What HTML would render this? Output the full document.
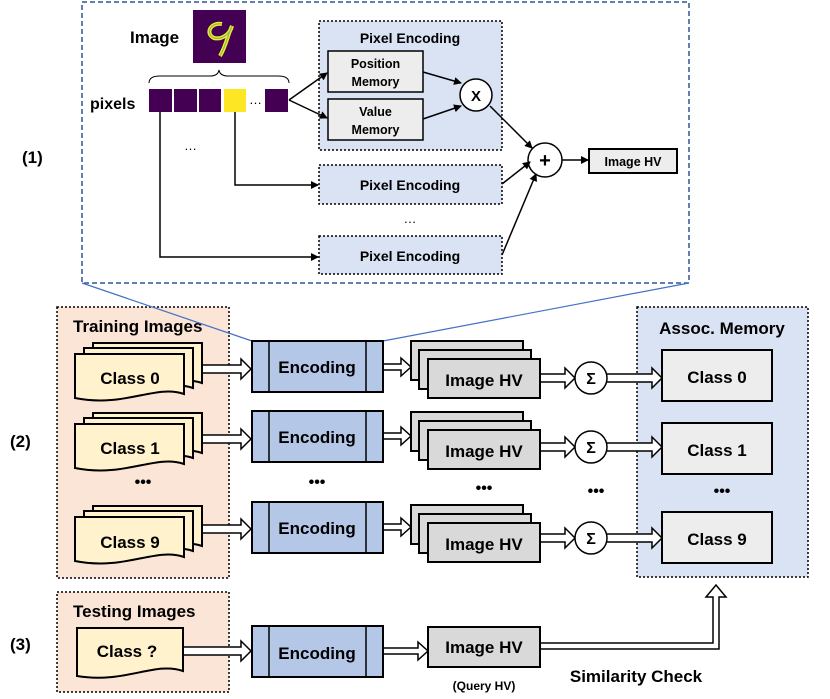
<!DOCTYPE html>
<html><head><meta charset="utf-8"><style>
body{margin:0;background:#fff}
svg{display:block;font-family:"Liberation Sans",sans-serif;font-weight:bold}
</style></head><body>
<svg width="830" height="699" viewBox="0 0 830 699" xmlns="http://www.w3.org/2000/svg">
<defs>
<marker id="ah" markerWidth="8" markerHeight="8" refX="7" refY="4" orient="auto" markerUnits="userSpaceOnUse"><path d="M0,0 L8,4 L0,8 Z" fill="#000"/></marker>
<path id="doc" d="M0,0 H109 V40 C80,30 50,54 0,44 Z" fill="#fff2cc" stroke="#000" stroke-width="2"/>
<g id="docs"><use href="#doc" x="18" y="-11"/><use href="#doc" x="9" y="-6"/><use href="#doc" x="0" y="0"/></g>
<g id="enc"><rect x="0" y="0" width="131" height="51" fill="#b4c7e7" stroke="#000" stroke-width="2"/><line x1="17" y1="0" x2="17" y2="51" stroke="#000" stroke-width="1.5"/><line x1="114" y1="0" x2="114" y2="51" stroke="#000" stroke-width="1.5"/></g>
<g id="hv"><rect x="0" y="0" width="112" height="39" fill="#d9d9d9" stroke="#000" stroke-width="2"/><rect x="8" y="9" width="112" height="39" fill="#d9d9d9" stroke="#000" stroke-width="2"/><rect x="17" y="18" width="112" height="39" fill="#d9d9d9" stroke="#000" stroke-width="2"/></g>
</defs>

<!-- section (1) -->
<rect x="82" y="2" width="607" height="281" fill="none" stroke="#2f5597" stroke-width="1.5" stroke-dasharray="5,3"/>
<text x="22" y="163" font-size="17">(1)</text>
<text x="130" y="43" font-size="17">Image</text>
<rect x="193" y="10" width="53" height="53" fill="#440154"/>
<path d="M222,24 C210,22 205,34 214,38 C222,40 230,34 232,26 C228,34 226,46 220,56" fill="none" stroke="#fde725" stroke-width="4"/>
<path d="M222,24 C210,22 205,34 214,38 C222,40 230,34 232,26 C228,34 226,46 220,56" fill="none" stroke="#35b779" stroke-width="1.2" opacity="0.7"/>
<path d="M149,83 Q149,76 160,76 L210,76 Q218,76 219,70 Q220,76 228,76 L278,76 Q289,76 289,83" fill="none" stroke="#000" stroke-width="1"/>
<text x="90" y="109" font-size="16">pixels</text>
<rect x="149" y="89" width="23" height="23" fill="#440154"/>
<rect x="174" y="89" width="23" height="23" fill="#440154"/>
<rect x="199" y="89" width="22" height="23" fill="#440154"/>
<rect x="224" y="89" width="22" height="23" fill="#fde725"/>
<text x="249" y="104" font-size="13" font-weight="normal">…</text>
<rect x="265" y="89" width="23" height="23" fill="#440154"/>
<text x="184" y="150" font-size="13" font-weight="normal">…</text>

<rect x="319" y="21" width="183" height="129" fill="#dae3f3" stroke="#000" stroke-width="1.5" stroke-dasharray="2,2"/>
<text x="410" y="43" font-size="14" text-anchor="middle">Pixel Encoding</text>
<rect x="328" y="51" width="95" height="41" fill="#ededed" stroke="#000" stroke-width="1.5"/>
<text x="375.5" y="68" font-size="12.5" text-anchor="middle">Position</text>
<text x="375.5" y="86" font-size="12.5" text-anchor="middle">Memory</text>
<rect x="328" y="99" width="95" height="41" fill="#ededed" stroke="#000" stroke-width="1.5"/>
<text x="375.5" y="116" font-size="12.5" text-anchor="middle">Value</text>
<text x="375.5" y="134" font-size="12.5" text-anchor="middle">Memory</text>
<circle cx="476" cy="95" r="16" fill="#fff" stroke="#000" stroke-width="1.5"/>
<text x="476" y="101" font-size="15" text-anchor="middle">X</text>
<line x1="289" y1="100" x2="327" y2="73" stroke="#000" stroke-width="1.5" marker-end="url(#ah)"/>
<line x1="289" y1="100" x2="327" y2="118" stroke="#000" stroke-width="1.5" marker-end="url(#ah)"/>
<line x1="423" y1="72" x2="461" y2="83" stroke="#000" stroke-width="1.5" marker-end="url(#ah)"/>
<line x1="423" y1="119" x2="461" y2="106" stroke="#000" stroke-width="1.5" marker-end="url(#ah)"/>

<rect x="319" y="165" width="183" height="39" fill="#dae3f3" stroke="#000" stroke-width="1.5" stroke-dasharray="2,2"/>
<text x="410" y="190" font-size="14" text-anchor="middle">Pixel Encoding</text>
<text x="410" y="223" font-size="13" text-anchor="middle" font-weight="normal">…</text>
<rect x="319" y="236" width="183" height="38" fill="#dae3f3" stroke="#000" stroke-width="1.5" stroke-dasharray="2,2"/>
<text x="410" y="261" font-size="14" text-anchor="middle">Pixel Encoding</text>
<path d="M235,112 V185 H318" fill="none" stroke="#000" stroke-width="1.5" marker-end="url(#ah)"/>
<path d="M160,112 V257 H318" fill="none" stroke="#000" stroke-width="1.5" marker-end="url(#ah)"/>

<circle cx="545" cy="160" r="17" fill="#fff" stroke="#000" stroke-width="1.5"/>
<text x="545" y="167" font-size="20" text-anchor="middle">+</text>
<line x1="490" y1="106" x2="532" y2="148" stroke="#000" stroke-width="1.5" marker-end="url(#ah)"/>
<line x1="502" y1="184" x2="530" y2="162" stroke="#000" stroke-width="1.5" marker-end="url(#ah)"/>
<line x1="502" y1="255" x2="536" y2="174" stroke="#000" stroke-width="1.5" marker-end="url(#ah)"/>
<line x1="562" y1="160" x2="588" y2="160" stroke="#000" stroke-width="1.5" marker-end="url(#ah)"/>
<rect x="589" y="149" width="88" height="24" fill="#ededed" stroke="#000" stroke-width="2"/>
<text x="633" y="166" font-size="12.5" text-anchor="middle">Image HV</text>

<!-- section (2) -->
<text x="10" y="447" font-size="17">(2)</text>
<rect x="57" y="307" width="172" height="271" fill="#fbe5d6" stroke="#000" stroke-width="1.5" stroke-dasharray="2,2"/>
<text x="73" y="332" font-size="17">Training Images</text>
<rect x="637" y="307" width="171" height="270" fill="#dae3f3" stroke="#000" stroke-width="1.5" stroke-dasharray="2,2"/>
<text x="722" y="334" font-size="17" text-anchor="middle">Assoc. Memory</text>
<line x1="82" y1="283" x2="252" y2="341" stroke="#4472c4" stroke-width="1.2"/>
<line x1="689" y1="283" x2="383" y2="341" stroke="#4472c4" stroke-width="1.2"/>

<g stroke="#000" stroke-width="1.5" fill="#fff">
<path d="M201,365 H241 V359 L251,369 L241,379 V373 H201"/>
<path d="M201,435 H241 V429 L251,439 L241,449 V443 H201"/>
<path d="M201,525 H241 V519 L251,529 L241,539 V533 H201"/>
<path d="M383,364 H401 V358 L411,367 L401,376 V370 H383"/>
<path d="M383,433 H401 V427 L411,436 L401,445 V439 H383"/>
<path d="M383,524 H401 V518 L411,527 L401,536 V530 H383"/>
<path d="M540,374 H565 V368 L575,378 L565,388 V382 H540"/>
<path d="M540,443 H565 V437 L575,447 L565,457 V451 H540"/>
<path d="M540,534 H565 V528 L575,538 L565,548 V542 H540"/>
<path d="M607,374 H652 V368 L662,378 L652,388 V382 H607"/>
<path d="M607,443 H652 V437 L662,447 L652,457 V451 H607"/>
<path d="M607,534 H652 V528 L662,538 L652,548 V542 H607"/>
</g>

<use href="#docs" x="75" y="354"/>
<use href="#docs" x="75" y="424"/>
<use href="#docs" x="75" y="517"/>
<text x="130" y="384" font-size="17" text-anchor="middle">Class 0</text>
<text x="130" y="454" font-size="17" text-anchor="middle">Class 1</text>
<text x="130" y="548" font-size="17" text-anchor="middle">Class 9</text>

<use href="#enc" x="252" y="341"/>
<use href="#enc" x="252" y="411"/>
<use href="#enc" x="252" y="502"/>
<text x="317" y="373" font-size="17" text-anchor="middle">Encoding</text>
<text x="317" y="443" font-size="17" text-anchor="middle">Encoding</text>
<text x="317" y="534" font-size="17" text-anchor="middle">Encoding</text>

<use href="#hv" x="411" y="341"/>
<use href="#hv" x="411" y="412"/>
<use href="#hv" x="411" y="505"/>
<text x="484" y="386" font-size="17" text-anchor="middle">Image HV</text>
<text x="484" y="457" font-size="17" text-anchor="middle">Image HV</text>
<text x="484" y="550" font-size="17" text-anchor="middle">Image HV</text>

<g fill="#fff" stroke="#000" stroke-width="1.5">
<circle cx="591" cy="378" r="16"/><circle cx="591" cy="447" r="16"/><circle cx="591" cy="538" r="16"/>
</g>
<text x="591" y="384" font-size="16" text-anchor="middle">Σ</text>
<text x="591" y="453" font-size="16" text-anchor="middle">Σ</text>
<text x="591" y="544" font-size="16" text-anchor="middle">Σ</text>

<g fill="#ededed" stroke="#000" stroke-width="2">
<rect x="662" y="350" width="110" height="51"/><rect x="662" y="423" width="110" height="51"/><rect x="662" y="512" width="110" height="51"/>
</g>
<text x="717" y="383" font-size="17" text-anchor="middle">Class 0</text>
<text x="717" y="456" font-size="17" text-anchor="middle">Class 1</text>
<text x="717" y="545" font-size="17" text-anchor="middle">Class 9</text>

<g font-size="16" text-anchor="middle">
<text x="143" y="487">•••</text><text x="317" y="487">•••</text><text x="484" y="493">•••</text><text x="596" y="496">•••</text><text x="722" y="496">•••</text>
</g>

<!-- section (3) -->
<text x="10" y="650" font-size="17">(3)</text>
<rect x="57" y="592" width="172" height="100" fill="#fbe5d6" stroke="#000" stroke-width="1.5" stroke-dasharray="2,2"/>
<text x="73" y="617" font-size="17">Testing Images</text>
<g stroke="#000" stroke-width="1.5" fill="#fff">
<path d="M183,647 H241 V641 L251,651 L241,661 V655 H183"/>
<path d="M383,648 H418 V642 L428,651 L418,660 V654 H383"/>
<path d="M540,643 H713 V597 H706 L716,585 L726,597 H719 V649 H540"/>
</g>
<path d="M77,628 H183 V671 C155,661 125,684 77,676 Z" fill="#fff2cc" stroke="#000" stroke-width="2"/>
<text x="127" y="657" font-size="17" text-anchor="middle">Class ?</text>
<use href="#enc" x="252" y="626"/>
<text x="317" y="659" font-size="17" text-anchor="middle">Encoding</text>
<rect x="428" y="627" width="112" height="40" fill="#d9d9d9" stroke="#000" stroke-width="2"/>
<text x="484" y="653" font-size="17" text-anchor="middle">Image HV</text>
<text x="484" y="690" font-size="12" text-anchor="middle">(Query HV)</text>
<text x="636" y="682" font-size="17" text-anchor="middle">Similarity Check</text>
</svg>
</body></html>
